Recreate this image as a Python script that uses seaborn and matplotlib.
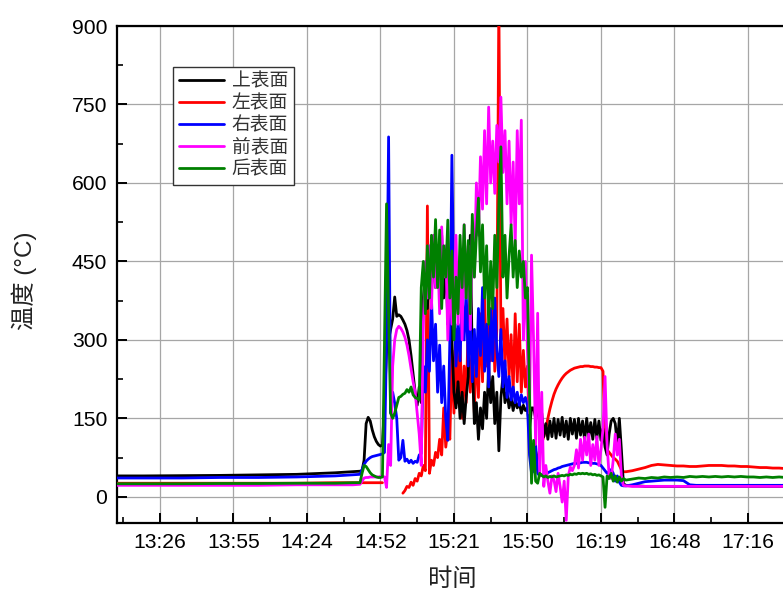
import numpy as np
import pandas as pd
import matplotlib
matplotlib.use("Agg")
import matplotlib.pyplot as plt
from matplotlib.lines import Line2D
from matplotlib.ticker import FixedLocator
import seaborn as sns

nan = np.nan

# ---------------- time stamps (minutes after 13:00) ----------------
t_base = [9.6, 20.0, 35.0, 50.0, 65.0, 80.0, 95.0, 102.0]
t_early = [104.8, 105.6, 106.4, 107.2, 108.0, 108.8, 109.6, 110.4, 111.2, 112.0, 112.8, 113.6]
t_active = [114.4, 115.2, 116.0, 116.8, 117.6, 118.4, 119.2, 120.0, 120.8, 121.6,
            122.4, 123.2, 124.0, 124.8, 125.6, 126.4, 127.2, 128.0, 128.8, 129.6,
            130.4, 131.2, 132.0, 132.8, 133.6, 134.4, 135.2, 136.0, 136.8, 137.6,
            138.4, 139.2, 140.0, 140.8, 141.6, 142.4, 143.2, 144.0, 144.8, 145.6,
            146.4, 147.2, 148.0, 148.8, 149.6, 150.4, 151.2, 152.0, 152.8, 153.6,
            154.4, 155.2, 156.0, 156.8, 157.6, 158.4, 159.2, 160.0, 160.8, 161.6,
            162.4, 163.2, 164.0, 164.8, 165.6, 166.4, 167.2, 168.0, 168.8, 169.6,
            170.4, 171.2, 172.0]
t_post = [172.8, 173.6, 174.4, 175.2, 176.0, 176.8, 177.6, 178.4, 179.2, 180.0,
          180.8, 181.6, 182.4, 183.2, 184.0, 184.8, 185.6, 186.4, 187.2, 188.0,
          188.8, 189.6, 190.4, 191.2, 192.0, 192.8, 193.6, 194.4, 195.2, 196.0,
          196.8, 197.6, 198.4, 199.2, 200.0, 200.8, 201.6, 202.4, 203.2, 204.0,
          204.8, 205.6, 206.4, 207.2, 208.0]
t_tail = [209.0, 211.5, 214.0, 216.5, 219.0, 221.5, 224.0, 226.5, 229.0, 231.5,
          234.0, 236.5, 239.0, 241.5, 244.0, 246.5, 249.0, 251.5, 254.0, 256.5,
          259.0, 261.5, 264.0, 266.5, 269.0, 271.5, 274.0, 276.5, 279.0, 281.5, 284.0]

# ---------------- 上表面 (black) ----------------
top_base = [40, 40, 40.5, 41, 42, 43, 46, 48]
top_early = [49, 50, 70, 140, 152, 145, 128, 115, 106, 100, 97, 99]
top_active = [180, 280, 300, 320, 340, 382, 345, 348, 345, 338,
              330, 318, 300, 270, 235, 200, 175, 210, 180, 380,
              420, 360, 440, 390, 470, 400, 480, 420, 500, 380,
              460, 330, 420, 300, 200, 170, 220, 150, 200, 140,
              190, 230, 500, 260, 140, 180, 110, 170, 130, 200,
              150, 250, 180, 230, 140, 200, 88, 190, 230, 180,
              200, 170, 190, 165, 185, 170, 180, 160, 175, 165,
              170, 130, 170]
top_post = [170, 150, 175, 140, 160, 115, 140, 110, 145, 115,
            150, 112, 148, 118, 152, 115, 145, 110, 150, 120,
            148, 112, 150, 118, 145, 108, 150, 115, 142, 110,
            148, 112, 145, 108, 130, 95, 80, 120, 145, 150,
            140, 100, 150, 90, 25]
top_tail = [22, 21, 21, 20, 20, 20, 20, 20, 20, 20, 20, 20, 20, 20, 20, 20,
            20, 20, 20, 20, 20, 20, 20, 20, 20, 20, 20, 20, 20, 20, 20]

# ---------------- 左表面 (red) ----------------
left_base = [26, 26, 26, 26, 26, 26, 27, 27]
left_early = [27, 27, 27, 27, 27, 27, 27, 27, 27, 27, 27, 27]
left_active = [nan, nan, nan, nan, nan, nan, nan, nan, nan,
               7, 12, 20, 18, 28, 22, 35, 30, 45, 40,
               60, 50, 556, 45, 70, 60, 85, 75, 110, 80,
               170, 95, 130, 110, 280, 160, 320, 180, 300, 150,
               250, 180, 330, 200, 270, 160, 300, 190, 350, 220,
               380, 250, 330, 260, 370, 240, 320, 950, 300, 360,
               250, 340, 230, 310, 200, 350, 220, 330, 200, 280,
               210, 250, 120, 80]
left_post = [50, 60, 75, 90, 103, 115, 130, 150, 168, 183,
             196, 206, 214, 221, 227, 232, 236, 239, 242, 244,
             246, 247, 248, 249, 249, 250, 250, 250, 249, 249,
             248, 248, 247, 247, 240, 110, 90, 85, 80, 75,
             72, 68, 60, 52, 48]
left_tail = [48, 50, 53, 56, 60, 62, 61, 60, 59, 59, 58, 58, 59, 60, 60, 60,
             59, 59, 58, 58, 57, 56, 56, 55, 55, 54, 54, 54, 53, 53, 53]

# ---------------- 右表面 (blue) ----------------
right_base = [36, 36, 36, 37, 37, 38, 40, 42]
right_early = [43, 52, 62, 68, 72, 75, 77, 78, 79, 80, 81, 82]
right_active = [85, 300, 688, 160, 200, 179, 150, 70, 75, 108,
                68, 72, 65, 70, 64, 68, 66, 80, 83, 250,
                200, 300, 240, 380, 260, 330, 200, 290, 180, 250,
                150, 108, 300, 653, 380, 250, 330, 260, 390, 300,
                395, 250, 350, 220, 320, 230, 360, 270, 400, 240,
                330, 210, 360, 260, 380, 280, 230, 320, 210, 260,
                190, 230, 185, 210, 180, 200, 175, 195, 180, 190,
                175, 80, 45]
right_post = [50, 100, 45, 40, 42, 44, 45, 46, 48, 50,
              52, 53, 55, 56, 58, 59, 60, 61, 62, 63,
              64, 64, 65, 65, 66, 66, 66, 65, 65, 64,
              64, 63, 62, 60, 55, 50, 45, 48, 52, 45,
              30, 40, 28, 22, 21]
right_tail = [21, 23, 26, 29, 30, 31, 32, 32, 32, 31, 23, 22, 22, 22, 22, 22,
              22, 22, 22, 22, 22, 22, 22, 22, 22, 22, 22, 22, 22, 22, 22]

# ---------------- 前表面 (magenta) ----------------
front_base = [22, 22, 22, 22, 22, 23, 23, 23]
front_early = [24, 30, 36, 37, 37, 38, 38, 38, 38, 38, 39, 39]
front_active = [38, 18, 100, 60, 250, 300, 320, 326, 322, 315,
                305, 290, 270, 245, 220, 200, 160, 120, 60, 330,
                450, 380, 480, 360, 500, 400, 470, 350, 516, 420,
                480, 300, 430, 330, 380, 500, 330, 460, 300, 520,
                380, 480, 320, 520, 420, 600, 500, 650, 550, 700,
                560, 745, 600, 680, 580, 710, 640, 764, 620, 700,
                560, 680, 520, 640, 480, 700, 560, 720, 300, 450,
                280, 160, 462]
front_post = [300, 100, 351, 40, 200, 20, 60, 30, 7, 40,
              32, 10, 45, 20, -10, 30, -45, 40, 57, 50,
              60, 90, 55, 110, 70, 114, 80, 120, 60, 100,
              70, 115, 60, 90, 130, 230, 100, 40, 35, 70,
              120, 80, 110, 40, 22]
front_tail = [21, 20, 20, 20, 20, 20, 20, 20, 20, 20, 20, 20, 20, 20, 20, 20,
              20, 20, 20, 20, 20, 20, 20, 20, 20, 20, 20, 20, 20, 20, 20]

# ---------------- 后表面 (green) ----------------
back_base = [25, 25, 25, 25.5, 25.5, 26, 26, 27]
back_early = [27, 45, 60, 58, 52, 46, 42, 40, 38, 37, 37, 38]
back_active = [300, 560, 350, 160, 150, 160, 175, 190, 192, 196,
               198, 205, 200, 210, 195, 190, 188, 185, 400, 450,
               350, 480, 380, 500, 420, 530, 400, 510, 360, 480,
               420, 529, 380, 470, 300, 420, 350, 500, 400, 520,
               380, 490, 350, 540, 420, 500, 571, 430, 520, 380,
               480, 330, 450, 360, 500, 400, 560, 669, 420, 500,
               380, 460, 520, 420, 490, 400, 470, 420, 450, 380,
               400, 200, 26]
back_post = [108, 30, 26, 45, 41, 38, 40, 37, 39, 38,
             40, 38, 39, 40, 41, 40, 42, 41, 43, 42,
             44, 43, 45, 44, 45, 44, 45, 43, 44, 42,
             43, 41, 42, 40, 38, -20, 40, 35, 45, 30,
             40, 28, 38, 30, 35]
back_tail = [32, 34, 36, 35, 37, 36, 38, 37, 38, 37, 39, 38, 39, 38, 39, 38,
             39, 38, 39, 38, 38, 37, 38, 37, 38, 37, 38, 37, 38, 37, 38]

# ---------------- axis ticks ----------------
x_tick_pos = [26.4, 55.2, 84.0, 112.8, 141.6, 170.4, 199.2, 228.0, 256.8]
x_tick_labels = ["13:26", "13:55", "14:24", "14:52", "15:21", "15:50", "16:19", "16:48", "17:16"]
y_ticks = [0, 150, 300, 450, 600, 750, 900]

series_names = ["上表面", "左表面", "右表面", "前表面", "后表面"]
series_colors = ["#000000", "#FF0000", "#0000FF", "#FF00FF", "#008000"]
series_values = [
    top_base + top_early + top_active + top_post + top_tail,
    left_base + left_early + left_active + left_post + left_tail,
    right_base + right_early + right_active + right_post + right_tail,
    front_base + front_early + front_active + front_post + front_tail,
    back_base + back_early + back_active + back_post + back_tail,
]
minutes = t_base + t_early + t_active + t_post + t_tail
draw_order = ["左表面", "上表面", "右表面", "前表面", "后表面"]

# ---------------- style ----------------
sns.set_theme(style="white")
plt.rcParams["font.family"] = ["Liberation Sans", "Noto Sans CJK SC", "DejaVu Sans"]
plt.rcParams["axes.unicode_minus"] = False

fig = plt.figure(figsize=(7.83, 5.97), dpi=100)
ax = fig.add_axes([117 / 783, 74 / 597, 704.5 / 783, 497 / 597])

frames = {}
for name, vals in zip(series_names, series_values):
    assert len(vals) == len(minutes), (name, len(vals), len(minutes))
    v = np.array(vals, dtype=float)
    d = pd.DataFrame({"t": minutes, "v": v, "seg": np.cumsum(np.isnan(v))})
    frames[name] = d.dropna()

for z, name in enumerate(draw_order):
    c = series_colors[series_names.index(name)]
    sns.lineplot(data=frames[name], x="t", y="v", units="seg", estimator=None,
                 color=c, linewidth=2.0, ax=ax, legend=False, sort=False,
                 zorder=3 + z)

ax.set_xlim(9.6, 285.6)
ax.set_ylim(-50, 900)

ax.set_xticks(x_tick_pos)
ax.set_xticklabels(x_tick_labels)
minor_x = [p - 14.4 for p in x_tick_pos] + [x_tick_pos[-1] + 14.4]
ax.xaxis.set_minor_locator(FixedLocator(minor_x))
ax.set_yticks(y_ticks)
ax.yaxis.set_minor_locator(FixedLocator([75, 225, 375, 525, 675, 825]))

ax.tick_params(axis="both", which="major", direction="in", length=7.5, width=1.4,
               labelsize=15.2, pad=7, colors="black", bottom=True, left=True,
               top=False, right=False)
ax.tick_params(axis="both", which="minor", direction="in", length=4, width=1.4,
               bottom=True, left=True, top=False, right=False)

ax.grid(True, which="major", color="#a6a6a6", linewidth=0.9)
ax.set_axisbelow(True)
for s in ["left", "bottom", "top", "right"]:
    ax.spines[s].set_color("black")
    ax.spines[s].set_linewidth(1.6)

ax.set_xlabel("时间", fontsize=17.5, color="#222222")
ax.set_ylabel("温度 (°C)", fontsize=17.5, color="#222222")
ax.xaxis.set_label_coords(0.4755, -0.0905)
ax.yaxis.set_label_coords(-0.114, 0.487)

handles = [Line2D([0], [0], color=c, linewidth=2) for c in series_colors]
leg = ax.legend(handles, series_names, loc="upper left", bbox_to_anchor=(0.0795, 0.9175),
                borderaxespad=0, fontsize=13.5, frameon=True, fancybox=False,
                edgecolor="#333333", framealpha=1, handlelength=2.4, handletextpad=0.4,
                labelspacing=0.24, borderpad=0.33)
leg.get_frame().set_linewidth(1.0)
for txt in leg.get_texts():
    txt.set_color("#333333")

fig.savefig("out.png", dpi=100)
